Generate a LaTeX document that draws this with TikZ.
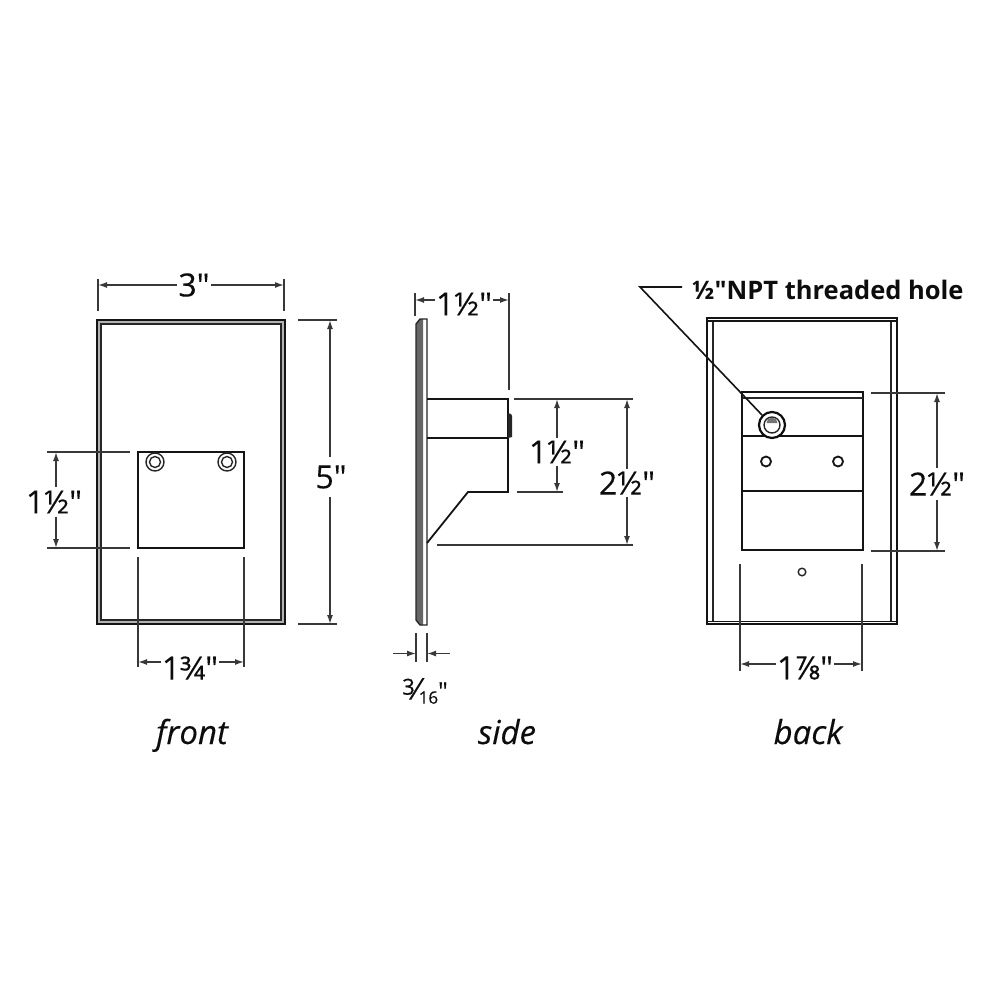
\documentclass[tikz,border=0pt]{standalone}
\usepackage{fontspec}
\setmainfont{Open Sans}[Ligatures=TeXOff]
\newfontfamily\medfont{Open Sans}[Ligatures=TeXOff,FakeBold=0.25]
\newfontfamily\meditalic{Open Sans Italic}[Ligatures=TeXOff,FakeBold=0.25]
\usetikzlibrary{arrows.meta}
\newcommand\smallfrac[2]{\raisebox{5pt}{\fontsize{22}{22}\selectfont #1}{\fontsize{30}{30}\selectfont ⁄}\raisebox{-4pt}{\fontsize{17}{17}\selectfont #2}}
\tikzset{
  x=1pt,y=-1pt,
  ink/.style={draw=black!92,line width=1.8pt},
  thin ink/.style={draw=black!85,line width=1.4pt},
  extline/.style={draw=black!78,line width=1.6pt},
  dimline/.style={draw=black!78,line width=1.5pt,{Latex[length=9pt,width=6pt]}-},
  dimtext/.style={font=\medfont\fontsize{32}{32}\selectfont,text=black!95,inner sep=1pt},
  caption/.style={font=\meditalic\fontsize{33}{33}\selectfont,text=black!95,inner sep=0pt,anchor=base},
  callout/.style={font=\bfseries\fontsize{25.5}{25.5}\selectfont,text=black!95,inner sep=0pt},
}
\begin{document}
\begin{tikzpicture}
\useasboundingbox (0,0) rectangle (1000,1000);
\fill[white] (0,0) rectangle (1000,1000);

% ---------- front ----------
\path[fill=black!30,even odd rule] (97,320) rectangle (285,624) (101,324) rectangle (281,620);
\draw[ink] (97,320) rectangle (285,624);
\draw[thin ink] (101,324) rectangle (281,620);
\draw[ink] (138,452) rectangle (244,548);
\foreach \hx in {155,227}{
  \draw[thin ink] (\hx,462) circle[radius=9];
  \draw[thin ink] (\hx,462) circle[radius=5.5];
}
% 3"
\node[dimtext] (fw) at (194,285) {3"};
\draw[extline] (98,279) -- (98,311);
\draw[extline] (284,279) -- (284,311);
\coordinate (fwa) at (98,285); \coordinate (fwb) at (284,285);
\draw[dimline] (fwa) -- (fwa -| fw.west);
\draw[dimline] (fwb) -- (fwb -| fw.east);
% 5"
\node[dimtext,inner sep=8pt] (fh) at (331,477) {5"};
\draw[extline] (298,320) -- (337,320);
\draw[extline] (298,624) -- (337,624);
\coordinate (fha) at (330,320); \coordinate (fhb) at (330,624);
\draw[dimline] (fha) -- (fha |- fh.north);
\draw[dimline] (fhb) -- (fhb |- fh.south);
% 1 1/2"
\node[dimtext,inner sep=3pt] (fs) at (54,502) {1½"};
\draw[extline] (47,452) -- (130,452);
\draw[extline] (47,548) -- (130,548);
\coordinate (fsa) at (56,452); \coordinate (fsb) at (56,548);
\draw[dimline] (fsa) -- (fsa |- fs.north);
\draw[dimline] (fsb) -- (fsb |- fs.south);
% 1 3/4"
\node[dimtext] (fb) at (190,668) {1¾"};
\draw[extline] (138,557) -- (138,667);
\draw[extline] (244,557) -- (244,667);
\coordinate (fba) at (138,662); \coordinate (fbb) at (244,662);
\draw[dimline] (fba) -- (fba -| fb.west);
\draw[dimline] (fbb) -- (fbb -| fb.east);
\node[caption] (cf) at (192,744) {front};

% ---------- side ----------
\path[fill=black!60] (416,324) -- (420,319) -- (423,319) -- (423,625) -- (420,625) -- (416,620) -- cycle;
\draw[thin ink] (416,324) -- (420,319) -- (427,319) -- (427,625) -- (420,625) -- (416,620) -- cycle;
\draw[ink] (427,399) -- (508,399) -- (508,492) -- (468,492) -- (427,543);
\draw[ink] (427,438) -- (508,438);
\fill[black!85] (508,413) -- (511,414) -- (512,416) -- (512,437) -- (508,438) -- cycle;
% 1 1/2" top
\node[dimtext] (sw) at (464,304) {1½"};
\draw[extline] (415,293) -- (415,316);
\draw[extline] (509,293) -- (509,390);
\coordinate (swa) at (415,300); \coordinate (swb) at (509,300);
\draw[dimline] (swa) -- (swa -| sw.west);
\draw[dimline] (swb) -- (swb -| sw.east);
% 1 1/2" right
\node[dimtext,inner sep=2pt] (sa) at (557,452) {1½"};
\draw[extline] (514,399) -- (633,399);
\draw[extline] (517,492) -- (563,492);
\coordinate (saa) at (557,399); \coordinate (sab) at (557,492);
\draw[dimline] (saa) -- (saa |- sa.north);
\draw[dimline] (sab) -- (sab |- sa.south);
% 2 1/2"
\node[dimtext,inner sep=2pt] (sb) at (627,483) {2½"};
\draw[extline] (437,545) -- (633,545);
\coordinate (sba) at (627,399); \coordinate (sbb) at (627,545);
\draw[dimline] (sba) -- (sba |- sb.north);
\draw[dimline] (sbb) -- (sbb |- sb.south);
% 3/16"
\node[inner sep=0pt,text=black!95,font=\medfont\fontsize{24}{24}\selectfont] (st) at (425,691) {\smallfrac{3}{16}"};
\draw[extline] (416,633) -- (416,662);
\draw[extline] (427,633) -- (427,662);
\coordinate (sta) at (393,653.5); \coordinate (stb) at (450,653.5);
\coordinate (stc) at (416,653.5); \coordinate (std) at (427,653.5);
\draw[dimline] (stc) -- (sta);
\draw[dimline] (std) -- (stb);
\node[caption] (cs) at (507,744) {side};

% ---------- back ----------
\draw[ink] (707,318) rectangle (897,624);
\draw[thin ink] (713,322) -- (713,621);
\draw[thin ink] (891,322) -- (891,621);
\draw[ink] (707,321) -- (897,321);
\draw[ink] (707,621.5) -- (897,621.5);
\draw[ink,line width=2pt] (742,392) rectangle (863,550);
\draw[thin ink] (742,398) -- (863,398);
\draw[ink] (742,436) -- (863,436);
\draw[ink] (742,491) -- (863,491);
% holes
\node[circle,draw=black!95,line width=2.2pt,minimum size=26pt,inner sep=0pt,fill=white] (big) at (772,425) {};
\draw[thin ink] (772,425) circle[radius=8];
\fill[black!55] (766.5,423) arc[start angle=180,end angle=360,radius=5.5] -- cycle;
\draw[ink] (766,461.5) circle[radius=5];
\draw[ink] (838,461.5) circle[radius=5];
\draw[thin ink] (802,572) circle[radius=3.8];
% callout
\node[callout,anchor=west] (np) at (692,290) {½"NPT threaded hole};
\coordinate (elbow) at (640,287);
\draw[draw=black!92,line width=1.6pt] (682,287) -- (elbow) -- (big.135);
% 2 1/2"
\node[dimtext,inner sep=4pt] (bh) at (937,484) {2½"};
\draw[extline] (871,393) -- (945,393);
\draw[extline] (871,551) -- (945,551);
\coordinate (bha) at (937,393); \coordinate (bhb) at (937,551);
\draw[dimline] (bha) -- (bha |- bh.north);
\draw[dimline] (bhb) -- (bhb |- bh.south);
% 1 7/8"
\node[dimtext] (bw) at (805,668) {1⅞"};
\draw[extline] (740,564) -- (740,671);
\draw[extline] (862,564) -- (862,671);
\coordinate (bwa) at (740,664); \coordinate (bwb) at (862,664);
\draw[dimline] (bwa) -- (bwa -| bw.west);
\draw[dimline] (bwb) -- (bwb -| bw.east);
\node[caption] (cb) at (808,744) {back};
\end{tikzpicture}
\end{document}
